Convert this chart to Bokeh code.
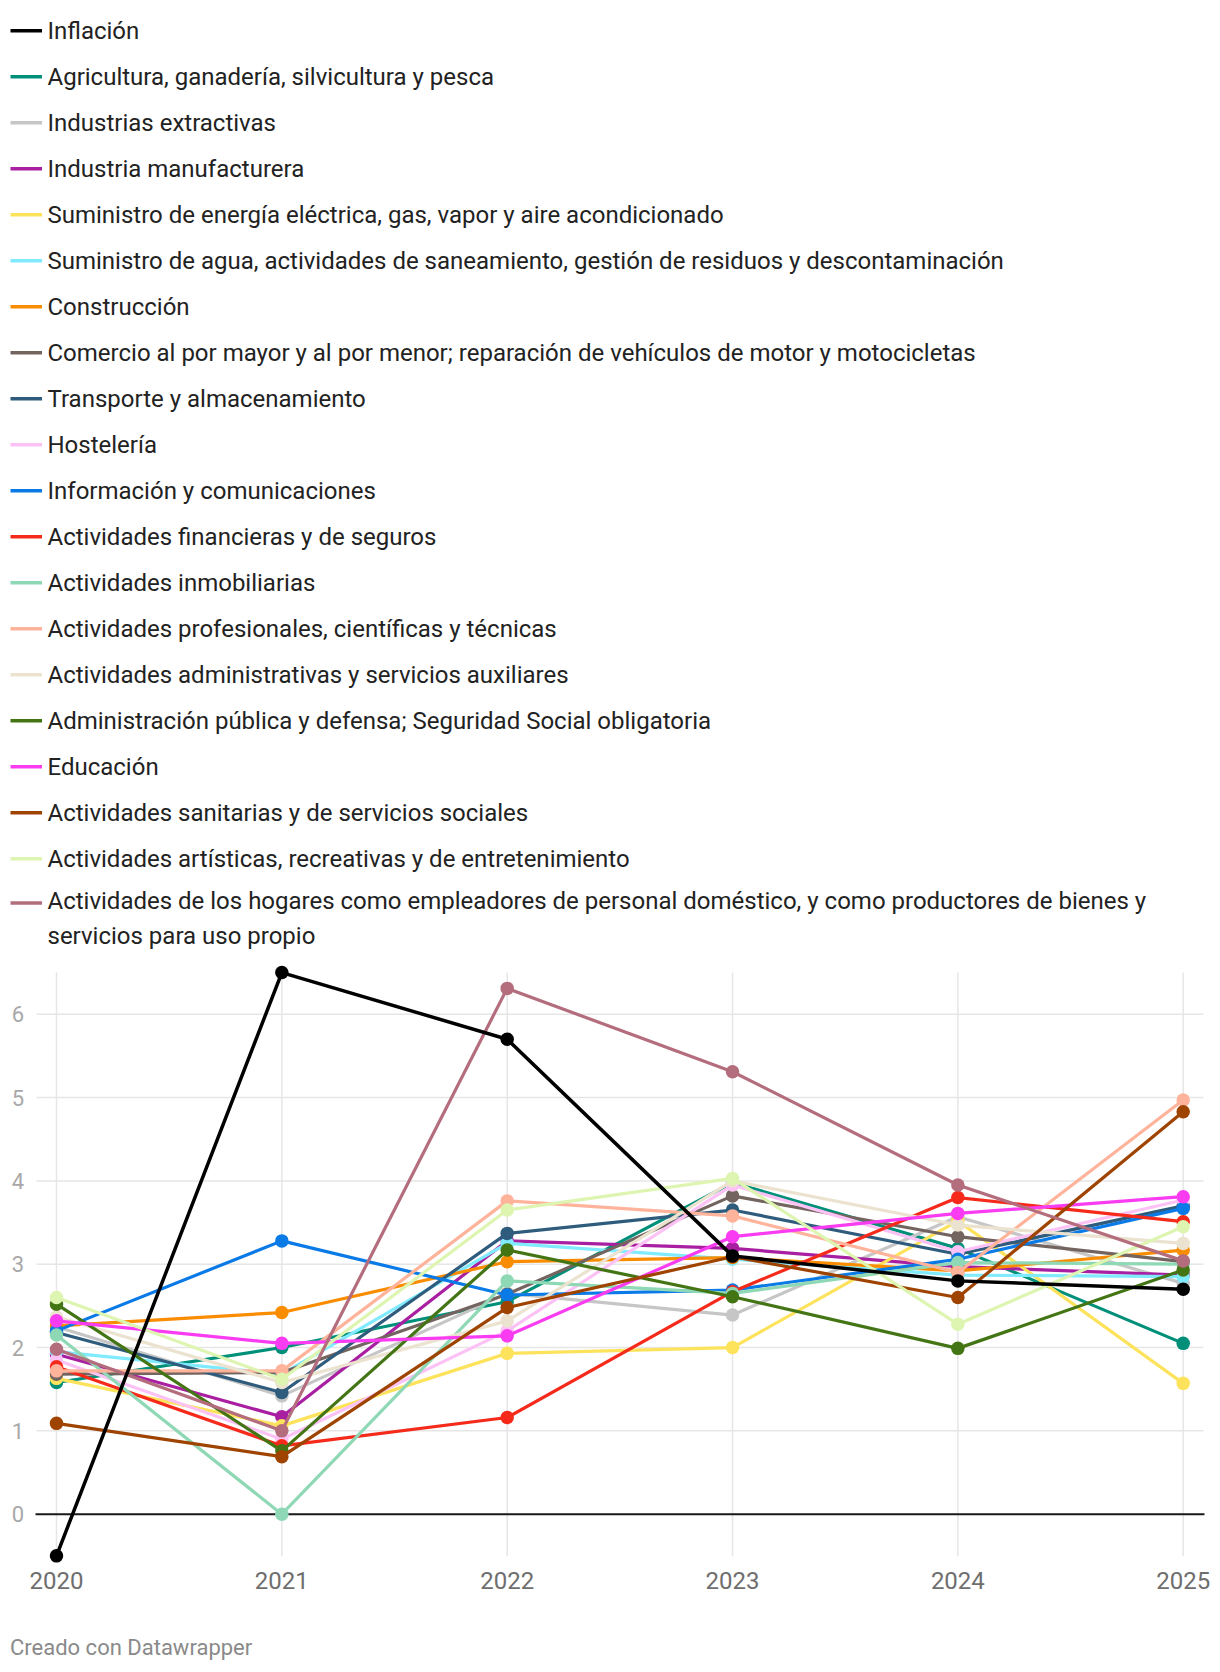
from bokeh.plotting import figure
from bokeh.models import Range1d, FixedTicker
from bokeh.layouts import column
from bokeh.embed import file_html
from bokeh.resources import INLINE
from bokeh.core.properties import value

# ---------------- data ----------------
years = [2020, 2021, 2022, 2023, 2024, 2025]
y_ticks = [0, 1, 2, 3, 4, 5, 6]
y_tick_labels = ["0", "1", "2", "3", "4", "5", "6"]

labels = [
    "Inflación",
    "Agricultura, ganadería, silvicultura y pesca",
    "Industrias extractivas",
    "Industria manufacturera",
    "Suministro de energía eléctrica, gas, vapor y aire acondicionado",
    "Suministro de agua, actividades de saneamiento, gestión de residuos y descontaminación",
    "Construcción",
    "Comercio al por mayor y al por menor; reparación de vehículos de motor y motocicletas",
    "Transporte y almacenamiento",
    "Hostelería",
    "Información y comunicaciones",
    "Actividades financieras y de seguros",
    "Actividades inmobiliarias",
    "Actividades profesionales, científicas y técnicas",
    "Actividades administrativas y servicios auxiliares",
    "Administración pública y defensa; Seguridad Social obligatoria",
    "Educación",
    "Actividades sanitarias y de servicios sociales",
    "Actividades artísticas, recreativas y de entretenimiento",
    "Actividades de los hogares como empleadores de personal doméstico, y como productores de bienes y\nservicios para uso propio",
]

inflacion = [-0.5, 6.5, 5.7, 3.1, 2.8, 2.7]
agricultura = [1.58, 2.0, 2.55, 3.98, 3.19, 2.05]
extractivas = [2.25, 1.42, 2.65, 2.39, 3.57, 2.77]
manufacturera = [1.92, 1.17, 3.28, 3.19, 2.97, 2.87]
energia = [1.63, 1.06, 1.93, 2.0, 3.52, 1.57]
agua = [1.95, 1.68, 3.25, 3.06, 2.87, 2.85]
construccion = [2.26, 2.42, 3.03, 3.08, 2.92, 3.17]
comercio = [1.68, 1.70, 2.64, 3.82, 3.33, 3.03]
transporte = [2.18, 1.46, 3.37, 3.65, 3.12, 3.70]
hosteleria = [1.85, 0.9, 2.2, 3.95, 3.15, 3.77]
informacion = [2.2, 3.28, 2.63, 2.69, 3.06, 3.67]
financieras = [1.77, 0.82, 1.16, 2.67, 3.80, 3.51]
inmobiliarias = [2.15, 0.0, 2.80, 2.65, 3.02, 3.0]
profesionales = [1.72, 1.72, 3.76, 3.58, 2.9, 4.97]
administrativas = [2.37, 1.58, 2.32, 4.0, 3.47, 3.25]
admin_publica = [2.52, 0.76, 3.17, 2.61, 1.99, 2.93]
educacion = [2.32, 2.05, 2.14, 3.33, 3.61, 3.81]
sanitarias = [1.09, 0.69, 2.48, 3.09, 2.60, 4.83]
artisticas = [2.6, 1.62, 3.65, 4.03, 2.28, 3.45]
hogares = [1.98, 1.0, 6.31, 5.31, 3.95, 3.04]

series = [inflacion, agricultura, extractivas, manufacturera, energia, agua,
          construccion, comercio, transporte, hosteleria, informacion,
          financieras, inmobiliarias, profesionales, administrativas,
          admin_publica, educacion, sanitarias, artisticas, hogares]

colors = ["#000000", "#00907a", "#c6c6c6", "#a91fa2", "#fde25c", "#80eaff",
          "#fa8c00", "#73645f", "#2f5c7d", "#fcc2f6", "#0a7ae6", "#f52a1b",
          "#8fd8b5", "#ffb39b", "#ebe3cf", "#447515", "#f93cf1", "#9f4301",
          "#ddf5b0", "#b46d7d"]

FONT = "Roboto"

# ---------------- layout geometry (pixels) ----------------
FW = 1212          # frame width  (whole canvas width)
FH = 1565          # frame height (legend + plot area)
X0_PX, X_PPU = 56.0, 225.34      # pixel of first year, pixels per year
Y0_PX, Y_PPU = 1513.7, 83.33     # pixel of value 0, pixels per unit


def px_x(px):
    return years[0] + (px - X0_PX) / X_PPU


def px_y(py):
    return (Y0_PX - py) / Y_PPU


p = figure(frame_width=FW, frame_height=FH,
           x_range=Range1d(px_x(0), px_x(FW)),
           y_range=Range1d(px_y(FH), px_y(0)),
           y_axis_location=None,
           output_backend="svg", toolbar_location=None, title=None,
           min_border=0, min_border_bottom=36)
p.outline_line_color = None
p.grid.visible = False

ax = p.xaxis[0]
ax.ticker = FixedTicker(ticks=years)
ax.axis_line_color = None
ax.major_tick_line_color = None
ax.minor_tick_line_color = None
ax.major_label_text_font = FONT
ax.major_label_text_font_size = "24px"
ax.major_label_text_color = "#6e6e6e"
ax.major_label_standoff = 0

# horizontal gridlines
p.segment(x0=[px_x(36)] * len(y_ticks), y0=y_ticks,
          x1=[px_x(1203)] * len(y_ticks), y1=y_ticks,
          line_color="#e6e6e6", line_width=1.5)
# vertical gridlines
p.segment(x0=years, y0=[px_y(1555.4)] * len(years),
          x1=years, y1=[px_y(972)] * len(years),
          line_color="#e6e6e6", line_width=1.5)
# zero line
p.segment(x0=[px_x(35)], y0=[0], x1=[px_x(1204)], y1=[0],
          line_color="#1a1a1a", line_width=2)

# y tick labels
p.text(x=[px_x(23.5)] * len(y_ticks), y=y_ticks, text=y_tick_labels,
       text_font=value(FONT), text_font_size="22px", text_color="#a8a8a8",
       text_align="right", text_baseline="middle")

order = list(range(1, len(series))) + [0]
for i in order:
    p.line(years, series[i], line_color=colors[i],
           line_width=3.5 if i == 0 else 3.2, line_join="round")
    p.scatter(years, series[i], size=13.5, fill_color=colors[i],
              line_color=None)

# legend
for i, (lab, col) in enumerate(zip(labels, colors)):
    lines = lab.split("\n")
    cy = 30.3 + 46 * i
    my = cy
    if len(lines) > 1:
        cy = 900.7
        my = 902.5
    p.segment(x0=[px_x(10)], y0=[px_y(my)], x1=[px_x(41.5)], y1=[px_y(my)],
              line_color=col, line_width=3.5, line_cap="butt")
    for k, ln in enumerate(lines):
        p.text(x=[px_x(47)], y=[px_y(cy + 34.3 * k)], text=[ln],
               text_font=value(FONT), text_font_size="24px",
               text_color="#222222", text_baseline="middle",
               text_align="left")

# ---------------- footer ----------------
FOOT_H = 64
foot = figure(width=FW, height=FOOT_H, x_range=Range1d(0, FW),
              y_range=Range1d(FOOT_H, 0), x_axis_type=None, y_axis_type=None,
              output_backend="svg", toolbar_location=None, min_border=0,
              title=None)
foot.grid.visible = False
foot.outline_line_color = None
foot.text(x=[9.5], y=[45.7], text=["Creado con Datawrapper"],
          text_font=value(FONT), text_font_size="22px", text_color="#8a8a8a",
          text_baseline="middle", text_align="left")

layout = column(p, foot, spacing=0)
open("out.html", "w").write(file_html(layout, INLINE))
